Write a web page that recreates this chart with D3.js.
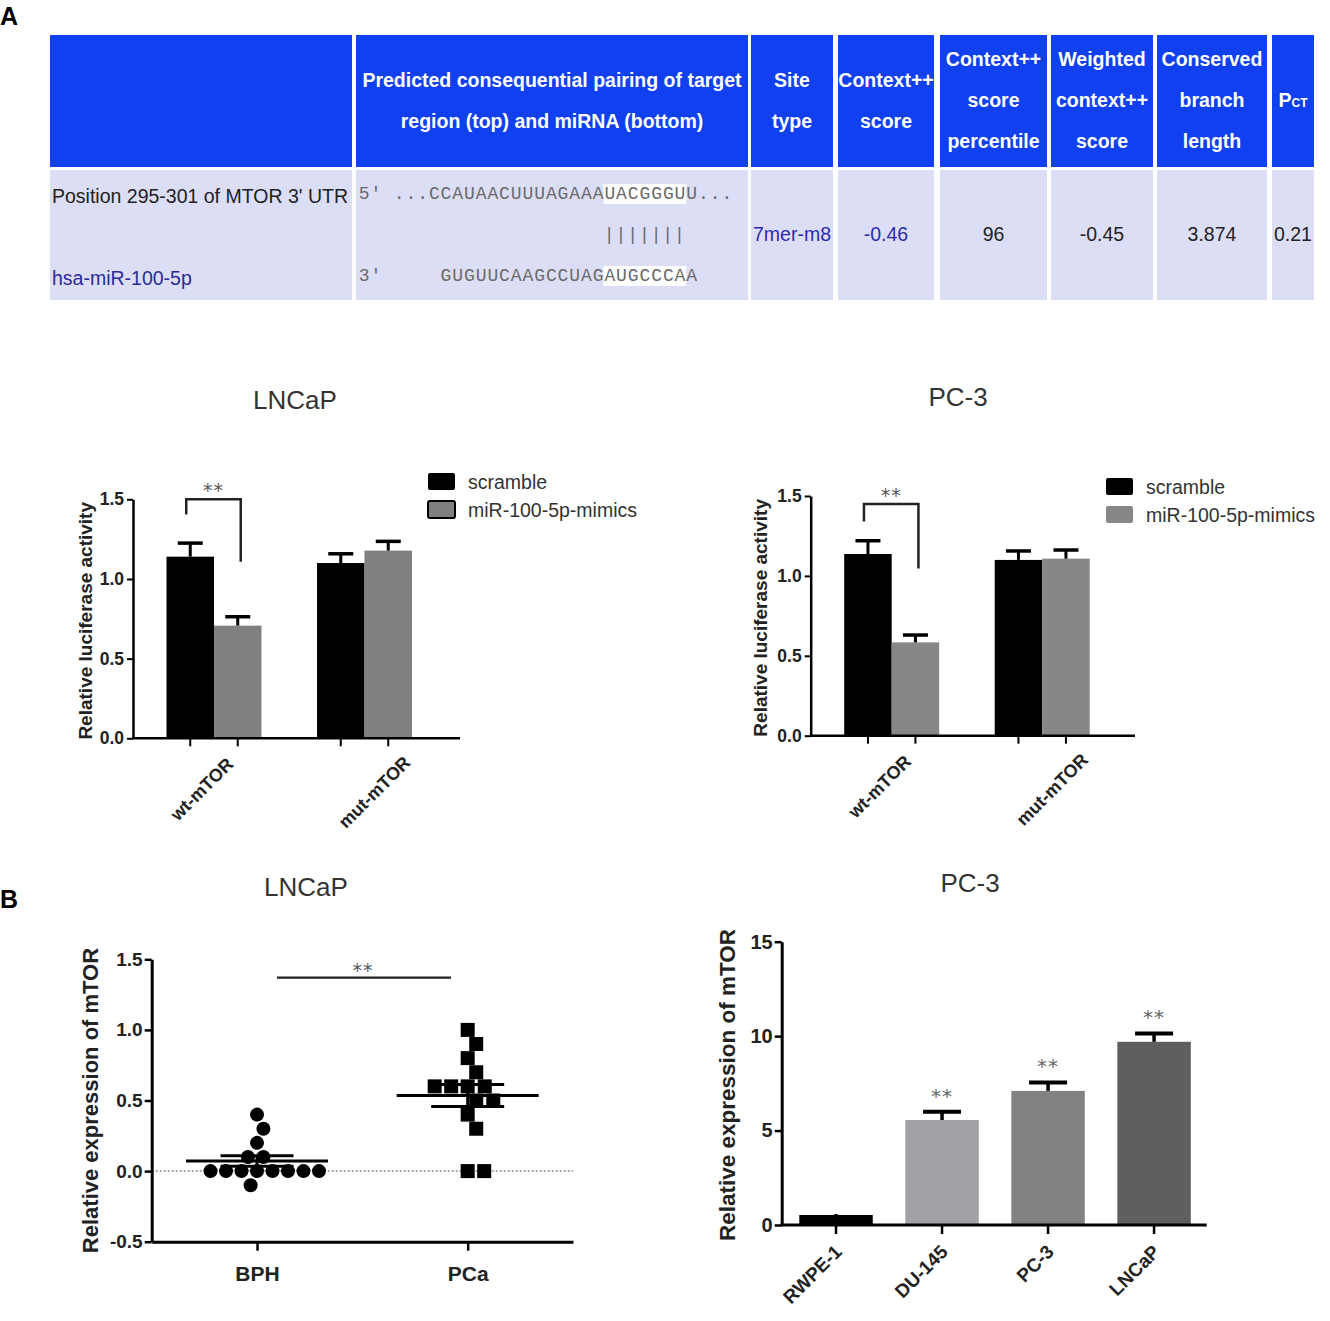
<!DOCTYPE html>
<html><head><meta charset="utf-8">
<script src="https://cdn.jsdelivr.net/npm/d3@7"></script>
<style>
body{margin:0;background:#fff}
svg text{font-family:"Liberation Sans",Arial,sans-serif}
svg text.sigmark{font-family:"DejaVu Sans",sans-serif}
</style>
</head><body>
<svg id="c" width="1330" height="1321"></svg>
<script>
// ---------------- DATA ----------------
const tableHeaders = [
  [],
  ["Predicted consequential pairing of target", "region (top) and miRNA (bottom)"],
  ["Site", "type"],
  ["Context++", "score"],
  ["Context++", "score", "percentile"],
  ["Weighted", "context++", "score"],
  ["Conserved", "branch", "length"],
  ["P|CT"]
];
const siteName = "Position 295-301 of MTOR 3' UTR";
const mirnaName = "hsa-miR-100-5p";
const targetLine = "5' ...CCAUAACUUUAGAAAUACGGGUU...";
const mirnaLine = "3'     GUGUUCAAGCCUAGAUGCCCAA";
const seedStart = 21;   // character index of the paired seed in both lines
const seedLength = 7;
const siteValues = ["7mer-m8", "-0.46", "96", "-0.45", "3.874", "0.21"];

const lucGroups = ["wt-mTOR", "mut-mTOR"];
const lucSeries = ["scramble", "miR-100-5p-mimics"];
const lncapScramble = [1.14, 1.10];
const lncapScrambleErr = [0.085, 0.058];
const lncapMimics = [0.707, 1.178];
const lncapMimicsErr = [0.056, 0.058];
const pc3Scramble = [1.137, 1.10];
const pc3ScrambleErr = [0.083, 0.056];
const pc3Mimics = [0.584, 1.108];
const pc3MimicsErr = [0.046, 0.054];
const lucTicks = [0, 0.5, 1.0, 1.5];

const tissueGroups = ["BPH", "PCa"];
const bphValues = [0.4, 0.3, 0.2, 0.1, 0.1, 0, 0, 0, 0, 0, 0, 0, 0, -0.1];
const pcaValues = [1.0, 0.9, 0.8, 0.7, 0.6, 0.6, 0.6, 0.6, 0.5, 0.5, 0.4, 0.3, 0, 0];
const tissueTicks = [-0.5, 0, 0.5, 1.0, 1.5];

const cellLines = ["RWPE-1", "DU-145", "PC-3", "LNCaP"];
const cellMeans = [0.53, 5.56, 7.1, 9.7];
const cellErrs = [0.05, 0.44, 0.45, 0.44];
const cellSig = ["", "**", "**", "**"];
const cellTicks = [0, 5, 10, 15];

// ---------------- DRAWING ----------------
const svg = d3.select("#c");
const SANS = '"Liberation Sans",Arial,sans-serif';
const MONO = '"Liberation Mono","DejaVu Sans Mono",monospace';

svg.append("text").attr("x", 0).attr("y", 25).attr("font-size", 25).attr("font-weight", "bold").text("A");
svg.append("text").attr("x", 0).attr("y", 908).attr("font-size", 25).attr("font-weight", "bold").text("B");

// ---- Table ----
const colStart = [50, 356, 751, 838, 940, 1051, 1157, 1272];
const colEnd   = [352, 748, 833, 934, 1047, 1153, 1267, 1314];
const HEAD = "#1040f0", BODY = "#dcdef6";
const tbl = svg.append("g");
tbl.selectAll("rect.h").data(tableHeaders).join("rect")
  .attr("x", (d, i) => colStart[i]).attr("width", (d, i) => colEnd[i] - colStart[i])
  .attr("y", 35).attr("height", 132).attr("fill", HEAD);
tbl.selectAll("rect.b").data(tableHeaders).join("rect")
  .attr("x", (d, i) => colStart[i]).attr("width", (d, i) => colEnd[i] - colStart[i])
  .attr("y", 170).attr("height", 130).attr("fill", BODY);
tableHeaders.forEach((lines, i) => {
  const cx = (colStart[i] + colEnd[i]) / 2;
  lines.forEach((ln, j) => {
    const cy = 100 + (j - (lines.length - 1) / 2) * 41;
    const t = tbl.append("text").attr("x", cx).attr("y", cy).attr("text-anchor", "middle")
      .attr("dominant-baseline", "central").attr("fill", "#fff").attr("font-weight", "bold").attr("font-size", 19.5);
    if (ln.includes("|")) {
      const [a, b] = ln.split("|");
      t.append("tspan").text(a);
      t.append("tspan").attr("font-size", 12).attr("dy", 3).text(b);
    } else t.text(ln);
  });
});
tbl.append("text").attr("x", 52).attr("y", 196).attr("dominant-baseline", "central")
  .attr("font-size", 19.5).attr("fill", "#222").text(siteName);
tbl.append("text").attr("x", 52).attr("y", 278).attr("dominant-baseline", "central")
  .attr("font-size", 19.5).attr("fill", "#2b2b9a").text(mirnaName);
const CW = 11.7, seqX = 358.7;
[[targetLine, 194], [mirnaLine, 276]].forEach(([s, cy]) => {
  tbl.append("rect").attr("x", seqX + seedStart * CW - 1).attr("y", cy - 10)
    .attr("width", seedLength * CW + 1).attr("height", 20).attr("fill", "#fff");
  tbl.append("g").selectAll("text").data(s.split("")).join("text")
    .attr("x", (d, i) => seqX + i * CW).attr("y", cy).attr("dominant-baseline", "central")
    .attr("font-size", 18).attr("fill", "#6a6a6a")
    .style("font-family", MONO).text(d => d);
});
tbl.append("g").selectAll("text").data(d3.range(seedLength)).join("text")
  .attr("x", i => seqX + (seedStart + i) * CW + CW / 2 - 1).attr("y", 235)
  .attr("dominant-baseline", "central").attr("text-anchor", "middle")
  .attr("font-size", 18).attr("fill", "#6a6a6a").style("font-family", MONO).text("|");
siteValues.forEach((v, i) => {
  const c = i + 2;
  tbl.append("text").attr("x", (colStart[c] + colEnd[c]) / 2).attr("y", 234)
    .attr("text-anchor", "middle").attr("dominant-baseline", "central").attr("font-size", 19.5)
    .attr("fill", i < 2 ? "#2b2bb0" : "#222").text(v);
});

// ---- Grouped luciferase bar chart ----
const lucLabelNudge = [-12, 10];
function lucChart(o) {
  const g = svg.append("g");
  const y = d3.scaleLinear().domain([0, 1.5]).range([o.yBottom, o.yTop]);
  const xg = d3.scaleBand().domain(lucGroups).range([o.x0, o.x0 + 312.5]).paddingInner(0.369).paddingOuter(0.2226);
  const xs = d3.scaleBand().domain(lucSeries).range([0, xg.bandwidth()]);
  const rows = [];
  lucGroups.forEach((gn, gi) => lucSeries.forEach((s, si) =>
    rows.push({ g: gn, s, si, v: o.means[si][gi], e: o.errs[si][gi] })));
  const cx = d => xg(d.g) + xs(d.s) + xs.bandwidth() / 2;
  g.append("text").attr("x", o.titleX).attr("y", o.titleY).attr("text-anchor", "middle")
    .attr("font-size", 26).attr("fill", "#333").text(o.title);
  g.selectAll("rect.bar").data(rows).join("rect")
    .attr("x", d => xg(d.g) + xs(d.s)).attr("width", xs.bandwidth())
    .attr("y", d => y(d.v)).attr("height", d => y(0) - y(d.v))
    .attr("fill", d => d.si === 0 ? "#000" : o.grey);
  g.selectAll("line.eb").data(rows).join("line")
    .attr("x1", cx).attr("x2", cx).attr("y1", d => y(d.v)).attr("y2", d => y(d.v + d.e))
    .attr("stroke", "#000").attr("stroke-width", 3);
  g.selectAll("line.cap").data(rows).join("line")
    .attr("x1", d => cx(d) - 12.5).attr("x2", d => cx(d) + 12.5)
    .attr("y1", d => y(d.v + d.e)).attr("y2", d => y(d.v + d.e))
    .attr("stroke", "#000").attr("stroke-width", 3.5);
  // axes
  const ya = g.append("g").attr("transform", `translate(${o.x0},0)`)
    .call(d3.axisLeft(y).tickValues(lucTicks).tickFormat(d => d.toFixed(1)).tickSize(6).tickSizeOuter(0).tickPadding(3));
  ya.select(".domain").attr("stroke-width", 2.5);
  ya.selectAll(".tick line").attr("stroke-width", 2);
  ya.selectAll("text").attr("font-size", 17.5).attr("font-weight", "bold").attr("fill", "#222")
    .style("font-family", SANS);
  g.append("line").attr("x1", o.x0 - 1).attr("x2", o.xEnd).attr("y1", y(0)).attr("y2", y(0))
    .attr("stroke", "#000").attr("stroke-width", 2.5);
  g.selectAll("line.xt").data(rows).join("line")
    .attr("x1", cx).attr("x2", cx).attr("y1", y(0)).attr("y2", y(0) + 8)
    .attr("stroke", "#000").attr("stroke-width", 2);
  g.selectAll("text.xl").data(lucGroups).join("text")
    .attr("transform", (d, i) => `translate(${xg(d) + xg.bandwidth() / 2 + lucLabelNudge[i]},${y(0) + 51 + i * 3}) rotate(-45)`)
    .attr("text-anchor", "middle").attr("dominant-baseline", "central")
    .attr("font-size", 18).attr("font-weight", "bold").attr("fill", "#222").text(d => d);
  g.append("text").attr("transform", `translate(${o.ylabX},${(o.yTop + o.yBottom) / 2 + 2}) rotate(-90)`)
    .attr("text-anchor", "middle").attr("dominant-baseline", "central")
    .attr("font-size", 19).attr("font-weight", "bold").attr("fill", "#222").text("Relative luciferase activity");
  // significance bracket
  const l = rows[0], r = rows[1];
  const bx1 = cx(l) - 4, bx2 = cx(r) + 3;
  g.append("path").attr("d", `M${bx1},${y(o.bracket[1])}V${y(o.bracket[0])}H${bx2}V${y(o.bracket[2])}`)
    .attr("fill", "none").attr("stroke", "#222").attr("stroke-width", 2.5);
  g.append("text").attr("class", "sigmark").attr("x", (bx1 + bx2) / 2).attr("y", y(o.bracket[0]) - 2).attr("text-anchor", "middle")
    .attr("font-size", 19).attr("letter-spacing", 1).attr("fill", "#555").text("**");
  // legend
  const lg = g.append("g").attr("transform", `translate(${o.legX},${o.legY})`);
  lg.selectAll("rect").data(lucSeries).join("rect")
    .attr("x", 0).attr("y", (d, i) => i * 28).attr("width", 27).attr("height", 17).attr("rx", 2)
    .attr("fill", (d, i) => i === 0 ? "#000" : o.grey)
    .attr("stroke", (d, i) => i === 1 && o.legOutline ? "#000" : "none").attr("stroke-width", 2);
  lg.selectAll("text").data(lucSeries).join("text")
    .attr("x", 40).attr("y", (d, i) => i * 28 + 9).attr("dominant-baseline", "central")
    .attr("font-size", 19.5).attr("fill", "#333").text(d => d);
}
lucChart({ title: "LNCaP", titleX: 295, titleY: 409, x0: 133, xEnd: 460, yBottom: 738.3, yTop: 499.3,
  means: [lncapScramble, lncapMimics], errs: [lncapScrambleErr, lncapMimicsErr],
  grey: "#808080", legX: 428, legY: 473, legOutline: true, ylabX: 85, bracket: [1.5, 1.405, 1.108] });
lucChart({ title: "PC-3", titleX: 958, titleY: 406, x0: 810.7, xEnd: 1135, yBottom: 735.7, yTop: 496,
  means: [pc3Scramble, pc3Mimics], errs: [pc3ScrambleErr, pc3MimicsErr],
  grey: "#878787", legX: 1106, legY: 478, legOutline: false, ylabX: 760, bracket: [1.45, 1.34, 1.047] });

// ---- Scatter (B left) ----
(function () {
  const g = svg.append("g");
  const x0 = 151.7, xEnd = 573;
  const y = d3.scaleLinear().domain([-0.5, 1.5]).range([1241.7, 959.3]);
  const x = d3.scalePoint().domain(tissueGroups).range([x0, xEnd]).padding(0.5);
  g.append("text").attr("x", 306).attr("y", 896).attr("text-anchor", "middle")
    .attr("font-size", 26).attr("fill", "#333").text("LNCaP");
  g.append("line").attr("x1", x0).attr("x2", xEnd).attr("y1", y(0)).attr("y2", y(0))
    .attr("stroke", "#888").attr("stroke-width", 1.5).attr("stroke-dasharray", "2,2");
  // simple beeswarm: place each point as close to the centre as possible without overlap
  function dodge(vals, minD) {
    const pts = vals.map(v => ({ v, y: y(v) })).sort((a, b) => b.v - a.v);
    const placed = [];
    pts.forEach(p => {
      const cands = [0];
      placed.forEach(q => {
        const dy = p.y - q.y;
        if (Math.abs(dy) < minD) { const dx = Math.sqrt(minD * minD - dy * dy); cands.push(q.dx + dx, q.dx - dx); }
      });
      const bal = d3.sum(placed, q => Math.sign(q.dx) * (Math.abs(q.y - p.y) < minD ? 1 : 0));
      cands.sort((a, b) => (Math.abs(a) - Math.abs(b)) || (bal > 0 ? a - b : b - a));
      p.dx = cands.find(c => placed.every(q => (c - q.dx) ** 2 + (p.y - q.y) ** 2 >= minD * minD - 0.01));
      placed.push(p);
    });
    return placed;
  }
  const bph = dodge(bphValues, 15.5), pca = dodge(pcaValues, 16.5);
  g.selectAll("circle").data(bph).join("circle")
    .attr("cx", d => x("BPH") + d.dx).attr("cy", d => d.y).attr("r", 7).attr("fill", "#000");
  g.selectAll("rect.pt").data(pca).join("rect")
    .attr("x", d => x("PCa") + d.dx - 7).attr("y", d => d.y - 7).attr("width", 14).attr("height", 14).attr("fill", "#000");
  [[bphValues, "BPH"], [pcaValues, "PCa"]].forEach(([vals, k]) => {
    const m = d3.mean(vals), se = d3.deviation(vals) / Math.sqrt(vals.length);
    const c = x(k);
    g.append("line").attr("x1", c - 71).attr("x2", c + 71).attr("y1", y(m)).attr("y2", y(m)).attr("stroke", "#000").attr("stroke-width", 3);
    [m - se, m + se].forEach(v => g.append("line").attr("x1", c - 36.5).attr("x2", c + 36.5)
      .attr("y1", y(v)).attr("y2", y(v)).attr("stroke", "#000").attr("stroke-width", 3));
    g.append("line").attr("x1", c).attr("x2", c).attr("y1", y(m - se)).attr("y2", y(m + se)).attr("stroke", "#000").attr("stroke-width", 3);
  });
  const ya = g.append("g").attr("transform", `translate(${x0},0)`)
    .call(d3.axisLeft(y).tickValues(tissueTicks).tickFormat(d => d.toFixed(1)).tickSize(7).tickSizeOuter(0).tickPadding(2));
  ya.select(".domain").attr("stroke-width", 3);
  ya.selectAll(".tick line").attr("stroke-width", 2.5);
  ya.selectAll("text").attr("font-size", 19).attr("font-weight", "bold").attr("fill", "#222").style("font-family", SANS);
  const xa = g.append("g").attr("transform", `translate(0,${y(-0.5)})`)
    .call(d3.axisBottom(x).tickSize(9).tickSizeOuter(0).tickPadding(15));
  xa.select(".domain").attr("stroke-width", 3);
  xa.selectAll(".tick line").attr("stroke-width", 2.5);
  xa.selectAll("text").attr("font-size", 21).attr("font-weight", "bold").attr("fill", "#222").style("font-family", SANS);
  g.append("text").attr("transform", `translate(90,${(y(-0.5) + y(1.5)) / 2}) rotate(-90)`)
    .attr("text-anchor", "middle").attr("dominant-baseline", "central")
    .attr("font-size", 22).attr("font-weight", "bold").attr("fill", "#222").text("Relative expression of mTOR");
  g.append("line").attr("x1", 277).attr("x2", 451).attr("y1", 977.7).attr("y2", 977.7).attr("stroke", "#222").attr("stroke-width", 2.2);
  g.append("text").attr("class", "sigmark").attr("x", 363).attr("y", 977).attr("text-anchor", "middle")
    .attr("font-size", 19).attr("letter-spacing", 1).attr("fill", "#555").text("**");
})();

// ---- Cell line bars (B right) ----
(function () {
  const g = svg.append("g");
  const x0 = 781.7;
  const y = d3.scaleLinear().domain([0, 15]).range([1225, 941.7]);
  const x = d3.scaleBand().domain(cellLines).range([x0, 1208.4]).paddingInner(0.307).paddingOuter(0.166);
  const colors = ["#000", "#a1a1a6", "#828282", "#5f5f5f"];
  const rows = cellLines.map((c, i) => ({ c, v: cellMeans[i], e: cellErrs[i], s: cellSig[i], col: colors[i] }));
  const cx = d => x(d.c) + x.bandwidth() / 2;
  g.append("text").attr("x", 970).attr("y", 892).attr("text-anchor", "middle")
    .attr("font-size", 26).attr("fill", "#333").text("PC-3");
  g.selectAll("rect").data(rows).join("rect")
    .attr("x", d => x(d.c)).attr("width", x.bandwidth()).attr("y", d => y(d.v)).attr("height", d => y(0) - y(d.v))
    .attr("fill", d => d.col);
  g.selectAll("line.eb").data(rows).join("line")
    .attr("x1", cx).attr("x2", cx).attr("y1", d => y(d.v)).attr("y2", d => y(d.v + d.e)).attr("stroke", "#000").attr("stroke-width", 3.5);
  g.selectAll("line.cap").data(rows.filter(d => d.e > 0.2)).join("line")
    .attr("x1", d => cx(d) - 19).attr("x2", d => cx(d) + 19).attr("y1", d => y(d.v + d.e)).attr("y2", d => y(d.v + d.e))
    .attr("stroke", "#000").attr("stroke-width", 4);
  g.selectAll("text.sig").data(rows).join("text").attr("class", "sigmark")
    .attr("x", cx).attr("y", d => y(d.v + d.e) - 9).attr("text-anchor", "middle")
    .attr("font-size", 20).attr("letter-spacing", 1).attr("fill", "#666").text(d => d.s);
  const ya = g.append("g").attr("transform", `translate(${x0},0)`)
    .call(d3.axisLeft(y).tickValues(cellTicks).tickSize(7).tickSizeOuter(0).tickPadding(2));
  ya.select(".domain").attr("stroke-width", 3);
  ya.selectAll(".tick line").attr("stroke-width", 2.5);
  ya.selectAll("text").attr("font-size", 20).attr("font-weight", "bold").attr("fill", "#222").style("font-family", SANS);
  g.append("line").attr("x1", x0 - 1.5).attr("x2", 1206.7).attr("y1", y(0)).attr("y2", y(0)).attr("stroke", "#000").attr("stroke-width", 3);
  g.selectAll("line.xt").data(rows).join("line")
    .attr("x1", cx).attr("x2", cx).attr("y1", y(0)).attr("y2", y(0) + 9).attr("stroke", "#000").attr("stroke-width", 2.5);
  g.selectAll("text.xl").data(rows).join("text")
    .attr("transform", d => `translate(${cx(d) + 7},${y(0) + 28}) rotate(-45)`)
    .attr("text-anchor", "end").attr("font-size", 19).attr("font-weight", "bold").attr("fill", "#222").text(d => d.c);
  g.append("text").attr("transform", `translate(727,1085) rotate(-90)`)
    .attr("text-anchor", "middle").attr("dominant-baseline", "central")
    .attr("font-size", 22.5).attr("font-weight", "bold").attr("fill", "#222").text("Relative expression of mTOR");
})();
</script>
</body></html>
